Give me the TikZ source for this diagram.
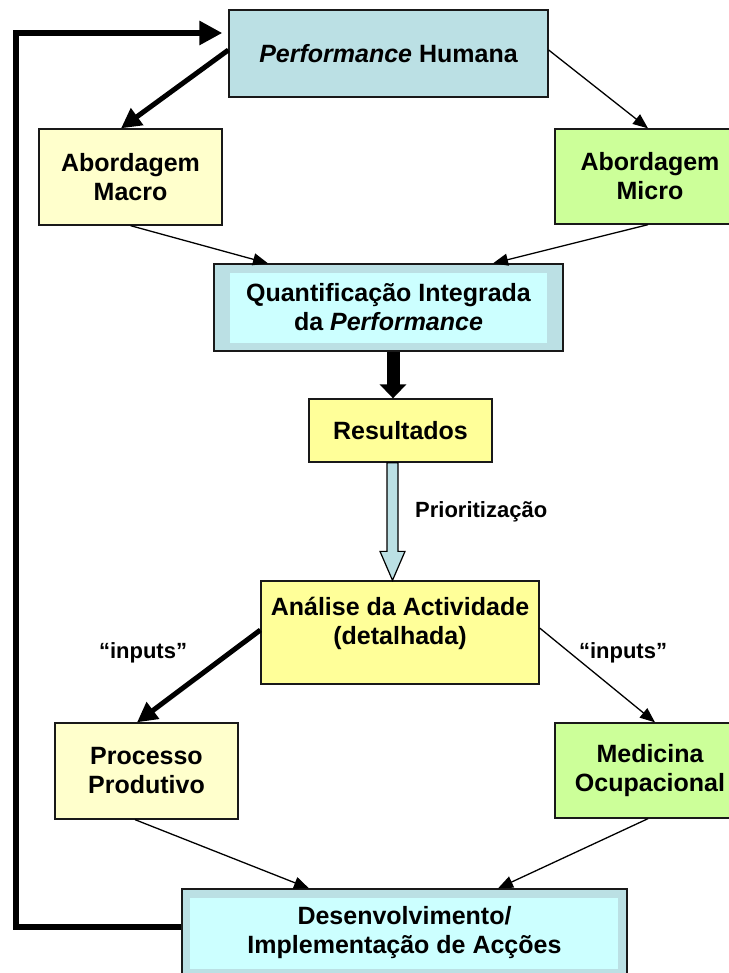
\documentclass[tikz,border=0pt]{standalone}
\usepackage{fontspec}
\setmainfont{Liberation Sans}
\usetikzlibrary{arrows.meta,calc}

\definecolor{teal1}{RGB}{187,224,228}
\definecolor{cyanin}{RGB}{204,255,255}
\definecolor{paleyel}{RGB}{255,255,204}
\definecolor{yel}{RGB}{255,255,153}
\definecolor{lgreen}{RGB}{204,255,153}

\begin{document}
\begin{tikzpicture}[x=1pt,y=-1pt,
  box/.style={draw=black!90, line width=1.3pt, align=center, inner sep=0pt,
    font=\bfseries\fontsize{25}{29}\selectfont},
  inset/.style 2 args={path picture={\fill[cyanin]
      ([xshift=#1,yshift=-9pt]path picture bounding box.north west) rectangle
      ([xshift=-#2,yshift=8pt]path picture bounding box.south east);}},
  lbl/.style={font=\bfseries\fontsize{22}{26}\selectfont, inner sep=0pt},
  thin/.style={line width=1.3pt, -{Triangle[length=15pt,width=12pt]}},
  heavy/.style={line width=5pt, -{Triangle[length=20pt,width=20pt]}},
  fat/.style={line width=13pt, -{Triangle[length=14pt,width=26pt]}},
  feed/.style={line width=6pt, line join=miter, -{Triangle[length=23pt,width=23pt]}},
  hollow/.style={draw=black, line width=1.2pt, fill=teal1, line join=miter}
]
\useasboundingbox (0,0) rectangle (728,973);

% boxes
\node[box, fill=teal1, minimum width=319pt, minimum height=87pt] (ph) at (388.5,53.5)
  {\itshape Performance\upshape{} Humana};
\node[box, fill=paleyel, minimum width=183pt, minimum height=96pt] (macro) at (130.5,177)
  {Abordagem\\Macro};
\node[box, fill=lgreen, minimum width=190pt, minimum height=95pt] (micro) at (650,176.5)
  {Abordagem\\Micro};
\node[box, fill=teal1, inset={16pt}{16pt}, minimum width=349pt, minimum height=87pt] (quant) at (388.5,307.5)
  {Quantificação Integrada\\da \itshape Performance};
\node[box, fill=yel, minimum width=183pt, minimum height=63pt] (res) at (400.5,430.5)
  {Resultados};
\node[box, fill=yel, minimum width=278pt, minimum height=103pt] (ana) at (400,632.5) {};
\node[box, draw=none, fill=none] (anatext) at ($(ana.center)+(0,-9)$)
  {Análise da Actividade\\(detalhada)};
\node[box, fill=paleyel, minimum width=183pt, minimum height=96pt] (proc) at (146.5,771)
  {Processo\\Produtivo};
\node[box, fill=lgreen, minimum width=190pt, minimum height=95pt] (med) at (650,770.5)
  {Medicina\\Ocupacional};
\node[box, fill=teal1, inset={8pt}{9pt}, minimum width=445pt, minimum height=88pt] (des) at (404.5,933)
  {Desenvolvimento/\\Implementação de Acções};

% labels
\node[lbl, anchor=west] (prio) at (415,512) {Prioritização};
\node[lbl] (inL) at (143,653) {“inputs”};
\node[lbl] (inR) at (623,653) {“inputs”};

% connectors
\draw[heavy] ([yshift=3.5pt]ph.west) -- ([xshift=-9.5pt]macro.north);
\draw[thin] ([yshift=3.5pt]ph.east) -- ([xshift=-2pt]micro.north);
\draw[thin] (macro.south) -- ([xshift=-120.5pt]quant.north);
\draw[thin] ([xshift=-2pt]micro.south) -- ([xshift=104.5pt]quant.north);
\draw[fat] ([xshift=4.5pt]quant.south) -- ([xshift=-7.5pt]res.north);

\coordinate (hs) at ([xshift=-8pt]res.south);
\coordinate (he) at ([xshift=-7.5pt]ana.north);
\path[hollow] ($(hs)+(-5.5,0)$) -- ($(he)+(-5.5,-29)$) -- ($(he)+(-12.5,-29)$) -- (he)
  -- ($(he)+(12.5,-29)$) -- ($(he)+(5.5,-29)$) -- ($(hs)+(5.5,0)$) -- cycle;

\draw[heavy] ([yshift=2.5pt]ana.west) -- ([xshift=-9.5pt]proc.north);
\draw[thin] ([yshift=4.5pt]ana.east) -- ([xshift=5pt]med.north);
\draw[thin] ([xshift=-11.5pt]proc.south) -- ([xshift=-95.5pt]des.north);
\draw[thin] ([xshift=-2pt]med.south) -- ([xshift=93.5pt]des.north);

% feedback loop back to the top
\coordinate (fbtop) at (15.5,33);
\draw[feed, shorten >=6pt] ([yshift=6.5pt]des.west) -| (fbtop) -- ([yshift=20.5pt]ph.west);
\end{tikzpicture}
\end{document}
